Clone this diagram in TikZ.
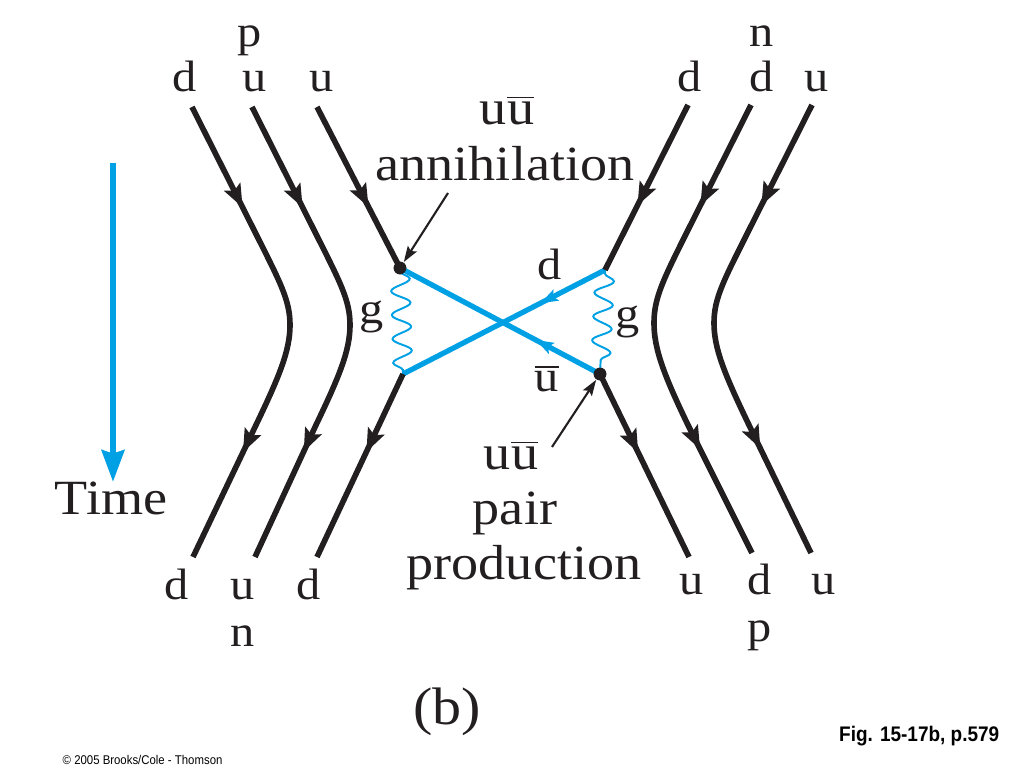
\documentclass[tikz,border=0pt]{standalone}
\usepackage{fontspec}
\setmainfont{Liberation Serif}[FakeStretch=1.1]
\newfontfamily\capfont{Liberation Sans}[FakeStretch=0.9]
\usetikzlibrary{arrows.meta,decorations.markings,decorations.pathmorphing,positioning}
\definecolor{qblue}{RGB}{0,160,228}
\definecolor{qblack}{RGB}{35,31,32}
\newcommand{\ubar}{\ensuremath{\overline{\mbox{u}}}}
\tikzset{
    qtip/.tip = {Stealth[length=6.5pt,width=5pt,inset=1.2pt]},
    btip/.tip = {Stealth[length=5pt,width=3.4pt,inset=1pt]},
    ptip/.tip = {Stealth[length=4.5pt,width=3pt,inset=0.8pt]},
    quark/.style =  {color=qblack,
                    line width=1.6pt,
                    postaction={decorate},
                    decoration={markings,
                                mark=at position 32pt with {\arrow{qtip}},
                                mark=at position -33pt with {\arrow{qtip}}}},
    quarkin/.style = {color=qblack,
                    line width=1.6pt,
                    postaction={decorate},
                    decoration={markings,
                                mark=at position 32pt with {\arrow{qtip}}}},
    quarkout/.style = {color=qblack,
                    line width=1.6pt,
                    postaction={decorate},
                    decoration={markings,
                                mark=at position -33pt with {\arrow{qtip}}}},
    dquark/.style = {color=qblue,
                    line width=1.5pt,
                    postaction={decorate},
                    decoration={markings,
                                mark=at position 0.32 with {\arrow{btip}}}},
    antiu/.style =  {color=qblue,
                    line width=1.5pt,
                    postaction={decorate},
                    decoration={markings,
                                mark=at position 0.68 with {\arrowreversed{btip}}}},
    gluon/.style =  {draw=qblue,
                    line width=0.55pt,
                    decorate,
                    decoration={snake,
                                amplitude=2.7pt,
                                segment length=6.8pt,
                                pre length=1pt,
                                post length=1pt}},
    vtx/.style =    {circle,
                    fill=qblack,
                    inner sep=0pt,
                    minimum size=3.6pt},
    pointer/.style = {draw=qblack,
                    line width=0.6pt,
                    -ptip},
    timearrow/.style = {color=qblue,
                    line width=1.5pt,
                    -{Stealth[length=9pt,width=6.5pt,inset=1pt]}},
    qlbl/.style =   {anchor=base,
                    inner sep=0pt,
                    text=qblack,
                    font=\fontsize{12.5}{15}\selectfont},
    note/.style =   {anchor=base,
                    inner sep=0pt,
                    text=qblack,
                    font=\fontsize{14}{16}\selectfont}
}
\begin{document}
\begin{tikzpicture}[x=0.01cm,y=-0.01cm]
    \useasboundingbox (0,0) rectangle (1024,768);
    % incoming quarks
    \node[qlbl] (pin)   at (250,47)  {p};
    \node[qlbl] (dIn1)  at (185,92)  {d};
    \node[qlbl] (uIn1)  at (255,92)  {u};
    \node[qlbl] (uIn2)  at (322,92)  {u};
    \node[qlbl] (nin)   at (762,47)  {n};
    \node[qlbl] (dIn2)  at (690,92)  {d};
    \node[qlbl] (dIn3)  at (762,92)  {d};
    \node[qlbl] (uIn3)  at (817,92)  {u};
    % outgoing quarks
    \node[qlbl] (dOut1) at (177,600) {d};
    \node[qlbl] (uOut1) at (243,600) {u};
    \node[qlbl] (dOut2) at (309,600) {d};
    \node[qlbl] (nout)  at (243,647) {n};
    \node[qlbl] (uOut2) at (692,595) {u};
    \node[qlbl] (dOut3) at (760,595) {d};
    \node[qlbl] (uOut3) at (824,595) {u};
    \node[qlbl] (pout)  at (760,642) {p};

    % vertices
    \node[vtx]  (Va) at (400,268) {};
    \node[vtx]  (Vp) at (600,374) {};
    \coordinate (Vb) at (403,374);
    \coordinate (Vc) at (605,270);
    \node[qlbl] (gl)   at (372,324) {g};
    \node[qlbl] (gr)   at (628,329) {g};
    \node[qlbl] (dmid) at (550,280) {d};
    \node[qlbl] (umid) at (547,392) {\ubar};

    % line ends
    \coordinate (L1t) at (192,107);  \coordinate (L1b) at (193,557);
    \coordinate (L2t) at (252,107);  \coordinate (L2b) at (255,557);
    \coordinate (L3t) at (317,107);  \coordinate (L3b) at (317,557);
    \coordinate (R1t) at (812,105);  \coordinate (R1b) at (811,553);
    \coordinate (R2t) at (751,105);  \coordinate (R2b) at (752,553);
    \coordinate (R3t) at (688,105);  \coordinate (R3b) at (689,557);

    % gluons and the blue quark lines
    \draw[gluon]  (Va.center) -- (Vb);
    \draw[gluon]  (Vc) -- (Vp.center);
    \draw[antiu]  (Va.center) -- (Vp.center);
    \draw[dquark] (Vc) -- (Vb);

    % black quark lines
    \draw[quark] (L1t) -- (255,232) .. controls (280,282) and (290,300) .. (290,325)
                       .. controls (290,350) and (280,375) .. (256,425) -- (L1b);
    \draw[quark] (L2t) -- (315,232) .. controls (340,282) and (350,300) .. (350,325)
                       .. controls (350,350) and (340,375) .. (316,425) -- (L2b);
    \draw[quarkin]  (L3t) -- (Va.center);
    \draw[quarkout] (Vb) -- (L3b);
    \draw[quark] (R1t) -- (749,230) .. controls (724,280) and (714,298) .. (714,323)
                       .. controls (714,348) and (724,373) .. (748,423) -- (R1b);
    \draw[quark] (R2t) -- (688,230) .. controls (663,280) and (654,298) .. (654,323)
                       .. controls (654,348) and (663,373) .. (687,423) -- (R2b);
    \draw[quarkin]  (R3t) -- (Vc);
    \draw[quarkout] (Vp.center) -- (R3b);
    \node[vtx] at (Va) {};
    \node[vtx] at (Vp) {};

    % notes
    \node[note] (annU) at (507,125) {u\ubar};
    \node[note] (annT) at (505,181) {annihilation};
    \coordinate (annTail) at (448,193);
    \draw[pointer] (annTail) -- (Va);
    \node[note] (prU)  at (511,470) {u\ubar};
    \node[note] (prP)  at (515,525) {pair};
    \node[note] (prT)  at (524,580) {production};
    \coordinate (prTail) at (552,447);
    \draw[pointer] (prTail) -- (Vp);

    % time axis
    \node[note] (time) at (111,515) {Time};
    \coordinate (ttop) at (113,163);
    \draw[timearrow] (ttop) -- (ttop |- time.north);

    % captions
    \node[font=\fontsize{15}{18}\selectfont,text=qblack] (sub) at (447,712) {(b)};
    \node[anchor=base east,inner sep=0pt,font=\capfont\bfseries\fontsize{6}{7}\selectfont]
        (figref) at (1000,742) {Fig. 15-17b, p.579};
    \node[anchor=base west,inner sep=0pt,font=\capfont\fontsize{3.6}{4}\selectfont]
        (copy) at (62,765) {\textcopyright\ 2005 Brooks/Cole - Thomson};
\end{tikzpicture}
\end{document}
